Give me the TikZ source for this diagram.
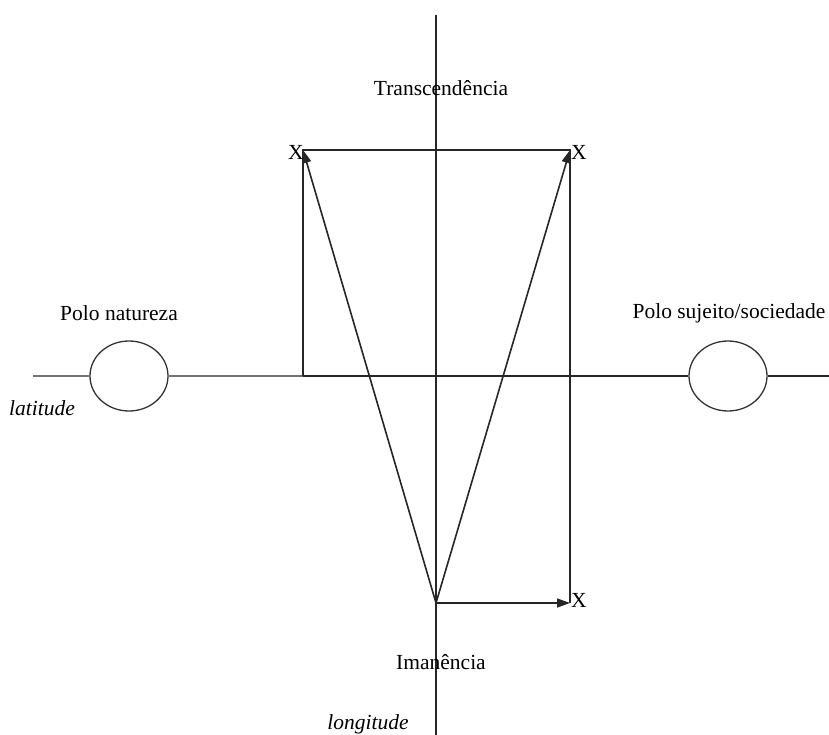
\documentclass[tikz,border=0pt]{standalone}
\usepackage{fontspec}
\setmainfont{Liberation Serif}
\usetikzlibrary{arrows.meta,shapes.geometric}
\begin{document}
\begin{tikzpicture}[x=1pt,y=-1pt,
  ln/.style={line width=1.6pt,black!85},
  gln/.style={line width=1.6pt,black!55},
  arr/.style={ln,-{Triangle[length=13pt,width=9pt]}},
  pole/.style={draw,black!80,line width=1.3pt,ellipse,minimum width=78pt,minimum height=70pt,inner sep=0pt},
  lbl/.style={font=\fontsize{21.5}{25}\selectfont,inner sep=0pt},
  ilbl/.style={font=\fontsize{21.5}{25}\selectfont\itshape,inner sep=0pt}]
\useasboundingbox (0,0) rectangle (829,735);
% coordinates
\coordinate (vtop) at (436,15);
\coordinate (vbot) at (436,735);
\coordinate (hl) at (33,376);
\coordinate (hr) at (829,376);
\coordinate (c) at (303,376);
\coordinate (tl) at (303,150);
\coordinate (tr) at (570,150);
\coordinate (b) at (436,603);
\coordinate (br) at (570,603);
% poles
\node[pole] (pn) at (129,376) {};
\node[pole] (ps) at (728,376) {};
% axes
\draw[ln] (vtop) -- (vbot);
\draw[gln] (hl) -- (pn.west);
\draw[gln] (pn.east) -- (c);
\draw[ln] (c) -- (ps.west);
\draw[ln] (ps.east) -- (hr);
% rectangle frame
\draw[ln] (c) -- (tl) -- (tr) -- (br);
% arrows
\draw[arr] (b) -- (tl);
\draw[arr] (b) -- (tr);
\draw[arr] (b) -- (br);
% labels
\node[lbl] (x1) at (296,152) {X};
\node[lbl] (x2) at (579,152) {X};
\node[lbl] (x3) at (579,600) {X};
\node[lbl] (tr1) at (441,88) {Transcendência};
\node[lbl] (im) at (441,662) {Imanência};
\node[lbl] (pnl) at (119,313) {Polo natureza};
\node[lbl] (psl) at (729,313) {Polo sujeito/sociedade};
\node[ilbl] (lat) at (42,408) {latitude};
\node[ilbl] (lon) at (368,724) {longitude};
\end{tikzpicture}
\end{document}
